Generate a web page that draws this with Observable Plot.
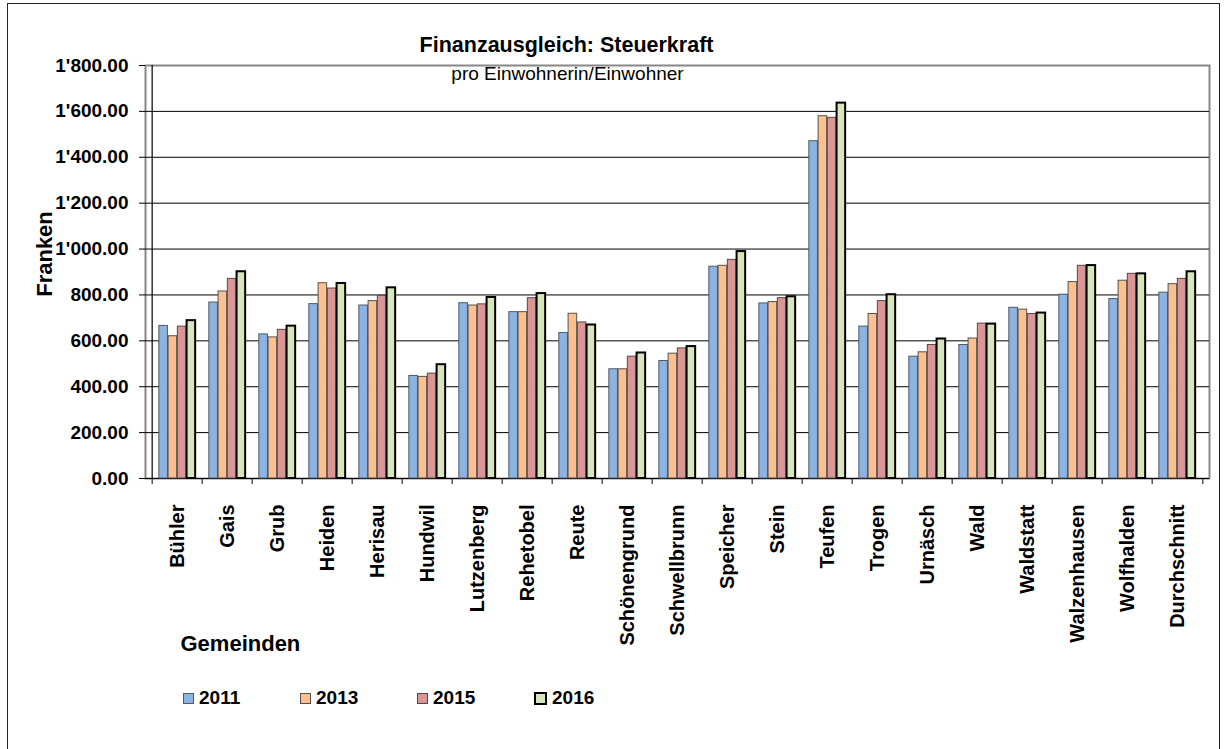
<!DOCTYPE html>
<html><head><meta charset="utf-8">
<script src="https://cdn.jsdelivr.net/npm/d3@7"></script>
<script src="https://cdn.jsdelivr.net/npm/@observablehq/plot@0.6"></script>
<style>
body{margin:0;background:#fff;font-family:"Liberation Sans",Arial,sans-serif;}
#wrap{position:relative;width:1224px;height:749px;overflow:hidden;}
#border{position:absolute;left:7px;top:3px;width:1211px;height:800px;border:1.5px solid #222;pointer-events:none;}
#legend{display:flex;padding-left:183px;padding-top:17px;}
.item{display:flex;align-items:center;width:117px;font-weight:bold;font-size:19px;line-height:22px;}
.sw{width:9px;height:9px;margin-right:5px;}
</style></head>
<body><div id="wrap"><div id="chart"></div><div id="legend"></div><div id="border"></div></div>
<script>
const categories = ["Bühler","Gais","Grub","Heiden","Herisau","Hundwil","Lutzenberg","Rehetobel","Reute","Schönengrund","Schwellbrunn","Speicher","Stein","Teufen","Trogen","Urnäsch","Wald","Waldstatt","Walzenhausen","Wolfhalden","Durchschnitt"];
const years = ["2011","2013","2015","2016"];
const v2011 = [665,767,628,760,754,447,764,725,634,476,512,923,763,1470,662,531,582,744,801,782,810];
const v2013 = [620,815,615,851,773,443,754,725,718,476,544,927,769,1579,717,550,610,736,856,862,847];
const v2015 = [662,870,648,828,796,457,759,786,680,531,567,953,786,1572,773,582,675,717,927,892,870];
const v2016 = [688,901,664,850,831,496,789,806,669,547,575,989,792,1636,801,608,673,721,928,892,901];
const yTicks = [0,200,400,600,800,1000,1200,1400,1600,1800];
const title = "Finanzausgleich: Steuerkraft";
const subtitle = "pro Einwohnerin/Einwohner";
const yLabel = "Franken";
const xLabel = "Gemeinden";

const colors = ["#8DB3E2","#FAC090","#D99694","#D7E4BD"];
const strokes = ["#4d5a66","#5a5048","#5a4646","#000000"];
const series = [v2011, v2013, v2015, v2016];
const rows = [];
categories.forEach((c, ci) => years.forEach((yr, yi) => rows.push({cat: c, year: yr, value: series[yi][ci]})));

const W = 1224, H = 670, ml = 145, mr = 15, mt = 65, mb = 192;
const step = (W - ml - mr) / categories.length;
const gap = step * 0.135;
const bw = (step - 2 * gap) / years.length;
const locale = d3.formatLocale({decimal: ".", thousands: "'", grouping: [3], currency: ["", ""]});
const fmt = locale.format(",.2f");

const bars = years.map((yr, i) => Plot.barY(rows.filter(r => r.year === yr), {
  x: "cat", y: "value", fill: "year", stroke: strokes[i], strokeWidth: i === 3 ? 2 : 1,
  insetLeft: gap + bw * i, insetRight: step - gap - bw * (i + 1)
}));

const chart = Plot.plot({
  width: W, height: H,
  marginLeft: ml, marginRight: mr, marginTop: mt, marginBottom: mb,
  style: {fontFamily: "'Liberation Sans', Arial, sans-serif", color: "#000", background: "transparent"},
  x: {type: "band", domain: categories, padding: 0},
  y: {domain: [0, 1800]},
  color: {domain: years, range: colors},
  marks: [
    Plot.frame({stroke: "#888", strokeWidth: 2}),
    Plot.gridY(yTicks.filter(t => t < 1800), {stroke: "#000", strokeOpacity: 1, strokeWidth: 1}),
    ...bars,
    Plot.ruleX([categories[0]], {x: d => d, dx: -step / 2, stroke: "#000", strokeWidth: 1.2}),
    Plot.axisY({ticks: yTicks, tickFormat: fmt, tickSize: 6, tickPadding: 11, fontSize: 19, fontWeight: "bold", label: null}),
    Plot.axisX({ticks: categories, tickSize: 6, tickFormat: () => "", dx: -step / 2, label: null}),
    Plot.axisX({ticks: [categories[categories.length - 1]], tickSize: 6, tickFormat: () => "", dx: step / 2, label: null}),
    Plot.axisX({ticks: categories, tickSize: 0, tickPadding: 26, tickRotate: -90, fontSize: 20, fontWeight: "bold", label: null}),
    Plot.text([title], {frameAnchor: "top", textAnchor: "middle", lineAnchor: "middle", dx: -111, dy: -20, fontSize: 21.5, fontWeight: "bold"}),
    Plot.text([subtitle], {frameAnchor: "top", textAnchor: "middle", lineAnchor: "middle", dx: -110, dy: 8, fontSize: 19}),
    Plot.text([yLabel], {frameAnchor: "left", textAnchor: "middle", lineAnchor: "middle", dx: -101, dy: -18, rotate: -90, fontSize: 22, fontWeight: "bold"}),
    Plot.text([xLabel], {frameAnchor: "bottom-left", textAnchor: "start", lineAnchor: "middle", dx: 35, dy: 165, fontSize: 22, fontWeight: "bold"})
  ]
});
document.getElementById("chart").append(chart);

const legend = document.getElementById("legend");
years.forEach((yr, i) => {
  const it = document.createElement("div");
  it.className = "item";
  const sw = document.createElement("span");
  sw.className = "sw";
  sw.style.background = colors[i];
  sw.style.border = (i === 3 ? "2px solid " : "1px solid ") + strokes[i];
  const t = document.createElement("span");
  t.textContent = yr;
  it.append(sw, t);
  legend.append(it);
});
</script>
</body></html>
